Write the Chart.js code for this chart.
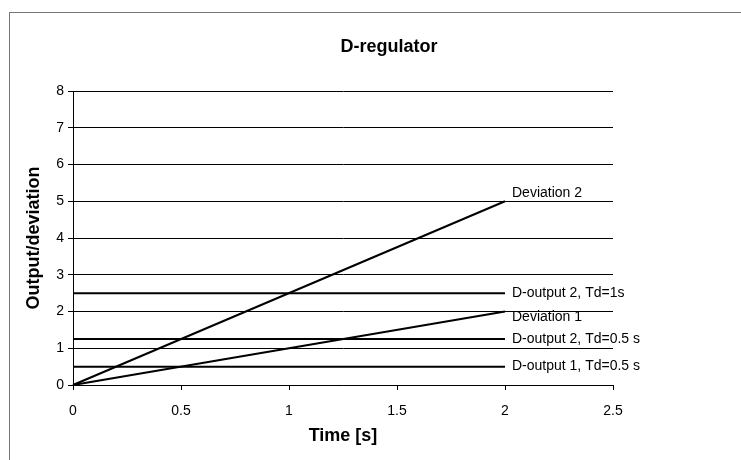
<!DOCTYPE html>
<html>
<head>
<meta charset="utf-8">
<title>D-regulator</title>
<script src="https://cdn.jsdelivr.net/npm/chart.js@4"></script>
<style>
    html, body { margin: 0; padding: 0; background: #fff; overflow: hidden; }
    #frame { position: absolute; left: 9px; top: 12px; width: 800px; height: 500px; border: 1px solid #777; }
    #wrap { position: absolute; left: 0; top: 0; width: 741px; height: 460px; }
</style>
</head>
<body>
<div id="frame"></div>
<div id="wrap"><canvas id="dChart"></canvas></div>
<script>
// time axis values [s] and the series
const times = [0, 2];
const deviation2 = [0, 5];
const dOutput2Td1 = [2.5, 2.5];
const deviation1 = [0, 2];
const dOutput2Td05 = [1.25, 1.25];
const dOutput1Td05 = [0.5, 0.5];
const seriesNames = ['Deviation 2', 'D-output 2, Td=1s', 'Deviation 1', 'D-output 2, Td=0.5 s', 'D-output 1, Td=0.5 s'];
const seriesValues = [deviation2, dOutput2Td1, deviation1, dOutput2Td05, dOutput1Td05];
const xTickValues = [0, 0.5, 1, 1.5, 2, 2.5];
const yTickValues = [0, 1, 2, 3, 4, 5, 6, 7, 8];

// vertical nudge of each end label (px), like the Excel data labels
const labelShift = [-8, 0, 6, 0, 0];

const FONT = 'Arial, "Liberation Sans", sans-serif';
Chart.defaults.font.family = FONT;
Chart.defaults.color = '#000';

const endLabels = {
    id: 'endLabels',
    afterDatasetsDraw(chart) {
        const ctx = chart.ctx;
        ctx.save();
        ctx.font = '14px ' + FONT;
        ctx.fillStyle = '#000';
        ctx.textAlign = 'left';
        ctx.textBaseline = 'middle';
        chart.data.datasets.forEach((ds, i) => {
            const pts = chart.getDatasetMeta(i).data;
            const last = pts[pts.length - 1];
            ctx.fillText(ds.label, last.x + 7, last.y + labelShift[i]);
        });
        ctx.restore();
    }
};

const datasets = seriesNames.map((name, i) => ({
    label: name,
    data: times.map((t, k) => ({ x: t, y: seriesValues[i][k] })),
    showLine: true,
    borderColor: '#000',
    backgroundColor: '#000',
    borderWidth: 2,
    pointRadius: 0,
    tension: 0,
    clip: false
}));

new Chart(document.getElementById('dChart').getContext('2d'), {
    type: 'scatter',
    data: { datasets: datasets },
    options: {
        responsive: true,
        maintainAspectRatio: false,
        animation: false,
        layout: { padding: { left: 37, right: 0, top: 0, bottom: 0 } },
        plugins: {
            legend: { display: false },
            tooltip: { enabled: false },
            title: {
                display: true,
                text: 'D-regulator',
                color: '#000',
                font: { size: 18, weight: 'bold' },
                padding: { top: 36.7, bottom: 32.7 }
            }
        },
        scales: {
            x: {
                type: 'linear',
                min: 0,
                max: 2.5,
                afterBuildTicks: s => { s.ticks = xTickValues.map(v => ({ value: v })); },
                afterFit: s => { s.height = 75; },
                grid: { drawOnChartArea: false, drawTicks: true, tickLength: 5, color: '#000' },
                border: { display: true, color: '#000', width: 1 },
                ticks: {
                    font: { size: 14 },
                    color: '#000',
                    padding: 13,
                    maxRotation: 0,
                    callback: v => String(v)
                },
                title: {
                    display: true,
                    text: 'Time [s]',
                    color: '#000',
                    font: { size: 18, weight: 'bold' },
                    padding: { top: 0, bottom: 13.2 }
                }
            },
            y: {
                type: 'linear',
                position: 'left',
                min: 0,
                max: 8,
                afterBuildTicks: s => { s.ticks = yTickValues.map(v => ({ value: v })); },
                afterFit: s => { s.width = 36; },
                grid: { color: '#000', lineWidth: 1, drawTicks: true, tickLength: 5 },
                border: { display: true, color: '#000', width: 1 },
                ticks: { font: { size: 14 }, color: '#000', padding: 4, callback: v => String(v) },
                title: {
                    display: true,
                    text: 'Output/deviation',
                    color: '#000',
                    font: { size: 18, weight: 'bold' },
                    padding: { top: -13.8, bottom: 0 }
                }
            },
            // empty right-hand box that keeps the plot narrow like the original
            spacer: {
                type: 'linear',
                position: 'right',
                min: 0,
                max: 1,
                afterFit: s => { s.width = 128; },
                grid: { display: false },
                border: { display: false },
                ticks: { display: false }
            }
        }
    },
    plugins: [endLabels]
});
</script>
</body>
</html>
